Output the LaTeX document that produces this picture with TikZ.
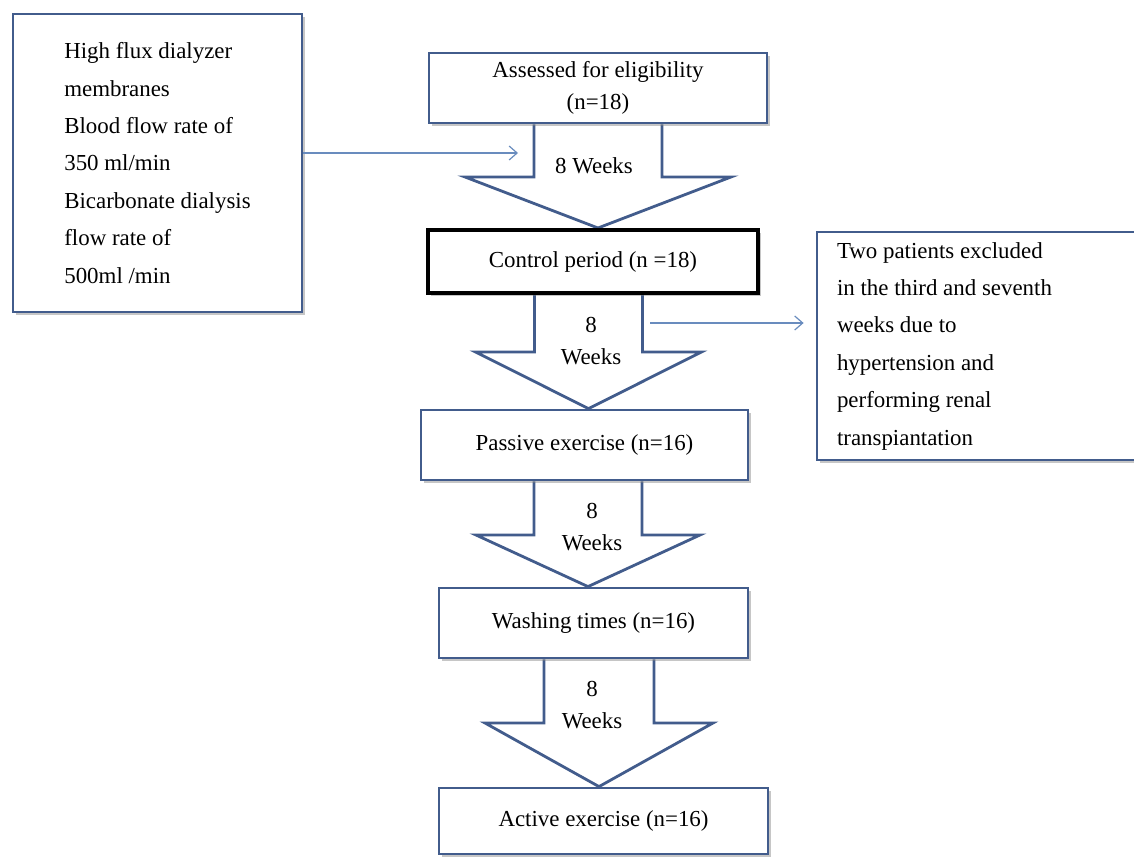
\documentclass[tikz,border=0pt]{standalone}
\usepackage{fontspec}
\setmainfont{Liberation Serif}
\usetikzlibrary{arrows.meta,shadows,backgrounds}
\definecolor{boxblue}{RGB}{66,92,140}
\definecolor{lineblue}{RGB}{105,140,190}
\begin{document}
\begin{tikzpicture}[
    x=0.5pt, y=-0.5pt,
    box/.style={rectangle, draw=boxblue, line width=1.4pt, fill=white,
        drop shadow={shadow xshift=1.5pt, shadow yshift=-1.5pt, opacity=0.45},
        inner sep=0pt, align=center, font=\fontsize{11.45}{16}\selectfont},
    ctrlbox/.style={box, draw=black, line width=2pt},
    notebox/.style={box, align=flush left, font=\fontsize{11.45}{18.7}\selectfont},
    bigarrow/.style={draw=boxblue, line width=1.4pt, fill=white, line join=miter},
    infoarrow/.style={draw=lineblue, line width=0.6pt,
        -{Straight Barb[length=4pt,width=7pt]}},
    weeks/.style={align=center, font=\fontsize{11.45}{16}\selectfont}
]
    \useasboundingbox (0,0) rectangle (1134,856);
    \clip (0,0) rectangle (1134,856);
    \node[notebox, minimum width=144.5pt, minimum height=149pt] (input) at (157.5,163)
        {High flux dialyzer\\membranes\\Blood flow rate of\\350 ml/min\\Bicarbonate dialysis\\flow rate of\\500ml /min};
    \node[box, minimum width=169pt, minimum height=35pt] (elig) at (598,88)
        {Assessed for eligibility\\(n=18)};
    \node[ctrlbox, minimum width=165pt, minimum height=31.5pt] (ctrl) at (593,261.5)
        {Control period (n =18)};
    \node[box, minimum width=163.5pt, minimum height=35pt] (pass) at (584.5,445)
        {Passive exercise (n=16)};
    \node[box, minimum width=154.5pt, minimum height=35pt] (wash) at (593.5,623)
        {Washing times (n=16)};
    \node[box, minimum width=164.5pt, minimum height=33pt] (active) at (603.5,821)
        {Active exercise (n=16)};
    \node[notebox, text width=141.5pt, inner xsep=10pt, minimum height=114pt] (excl) at (978.5,346)
        {Two patients excluded\\in the third and seventh\\weeks due to\\hypertension and\\performing renal\\transpiantation};
    \begin{scope}[on background layer]
        \foreach \src/\dst/\x/\hy/\sw/\hw in {elig/ctrl/598/177/64/133, ctrl/pass/588.5/352/54/113,
                pass/wash/588/535/54/112, wash/active/599/723/55/114}
            \draw[bigarrow] (\x-\sw,0 |- \src.south) -- (\x-\sw,\hy) -- (\x-\hw,\hy)
                -- (\x,0 |- \dst.north) -- (\x+\hw,\hy) -- (\x+\sw,\hy) -- (\x+\sw,0 |- \src.south);
    \end{scope}
    \node[weeks] (w1) at (594,166) {8 Weeks};
    \node[weeks] (w2) at (591,341) {8\\Weeks};
    \node[weeks] (w3) at (592,527) {8\\Weeks};
    \node[weeks] (w4) at (592,705) {8\\Weeks};
    \coordinate (inhit) at (518,153);
    \draw[infoarrow] (input.east |- inhit) -- (inhit);
    \coordinate (exfrom) at (650,323);
    \draw[infoarrow, shorten >=6pt] (exfrom) -- (excl.west |- exfrom);
\end{tikzpicture}
\end{document}
